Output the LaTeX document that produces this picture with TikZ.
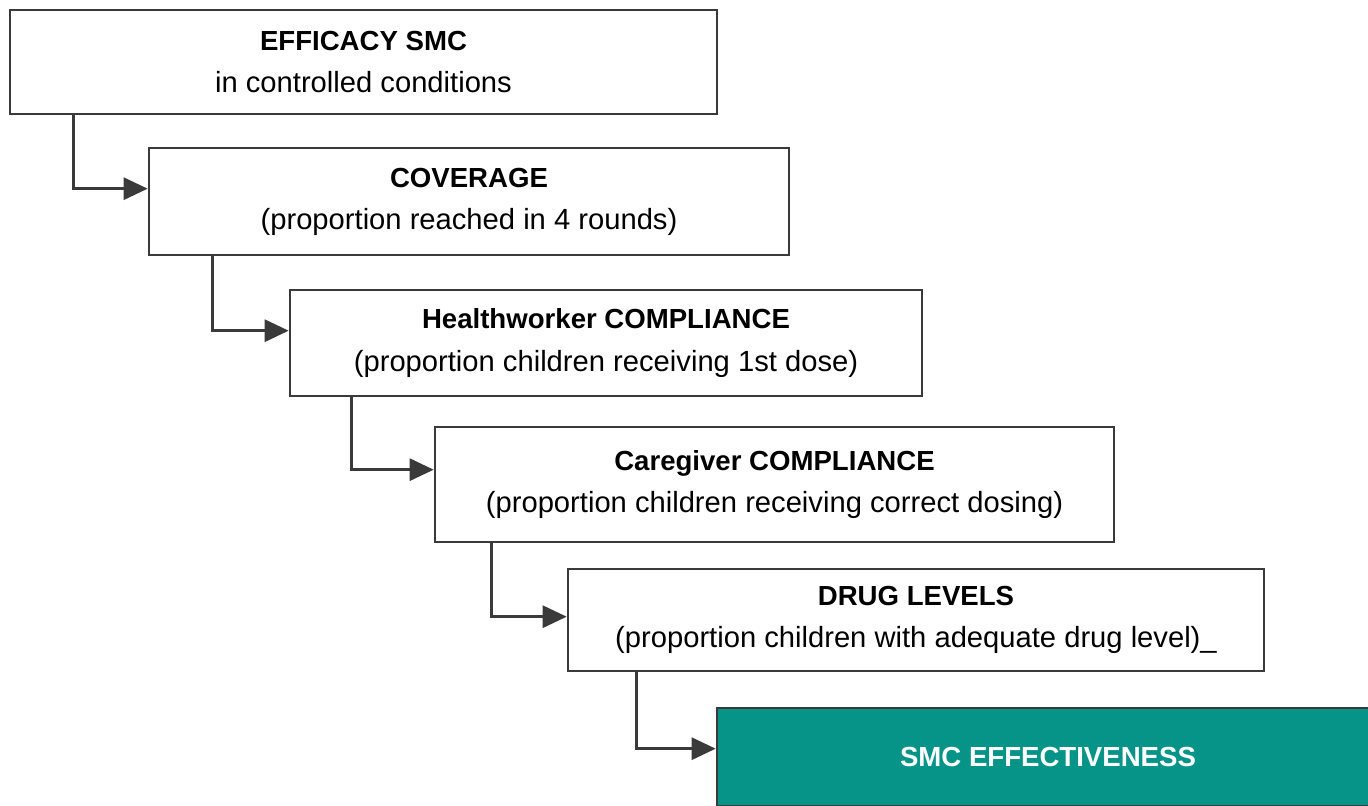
\documentclass[tikz,border=0pt]{standalone}
\usepackage{fontspec}
\setmainfont{Liberation Sans}
\usepackage{tikz}
\usetikzlibrary{arrows.meta,positioning}
\definecolor{edge}{RGB}{58,58,58}
\definecolor{outcome}{RGB}{6,148,136}
\newcommand{\boxhead}[1]{{\fontsize{15.7}{24}\selectfont\bfseries #1}}

\begin{document}
\begin{tikzpicture}[
  st/.style={rectangle,draw=edge,line width=1.5pt,fill=white,align=center,inner sep=2pt,font=\fontsize{16.6}{24}\selectfont},
  goal/.style={st,fill=outcome,text=white},
  ar/.style={-{Triangle[length=4.8mm,width=4.4mm]},line width=1.7pt,draw=edge}
]
\useasboundingbox (0,0) rectangle (27.36,-16.10);
\node[st,minimum width=14.14cm,minimum height=2.08cm] (efficacy) at (7.27,-1.24) {\boxhead{EFFICACY SMC}\\in controlled conditions};
\node[st,minimum width=12.80cm,minimum height=2.14cm] (coverage) at (9.38,-4.03) {\boxhead{COVERAGE}\\(proportion reached in 4 rounds)};
\node[st,minimum width=12.64cm,minimum height=2.12cm] (hwcomp) at (12.12,-6.86) {\boxhead{Healthworker COMPLIANCE}\\(proportion children receiving 1st dose)};
\node[st,minimum width=13.58cm,minimum height=2.30cm] (cgcomp) at (15.49,-9.69) {\boxhead{Caregiver COMPLIANCE}\\(proportion children receiving correct dosing)};
\node[st,minimum width=13.92cm,minimum height=2.04cm] (druglev) at (18.32,-12.40) {\boxhead{DRUG LEVELS}\\(proportion children with adequate drug level)\_};
\node[goal,minimum width=13.24cm,minimum height=1.96cm] (effect) at (20.96,-15.14) {\boxhead{SMC EFFECTIVENESS}};

\draw[ar] ([xshift=1.30cm]efficacy.south west) |- ([yshift=-0.84cm]coverage.north west);
\draw[ar] ([xshift=1.30cm]coverage.south west) |- ([yshift=-0.84cm]hwcomp.north west);
\draw[ar] ([xshift=1.26cm]hwcomp.south west) |- ([yshift=-0.88cm]cgcomp.north west);
\draw[ar] ([xshift=1.16cm]cgcomp.south west) |- ([yshift=-0.98cm]druglev.north west);
\draw[ar] ([xshift=1.40cm]druglev.south west) |- ([yshift=-0.84cm]effect.north west);
\end{tikzpicture}
\end{document}
